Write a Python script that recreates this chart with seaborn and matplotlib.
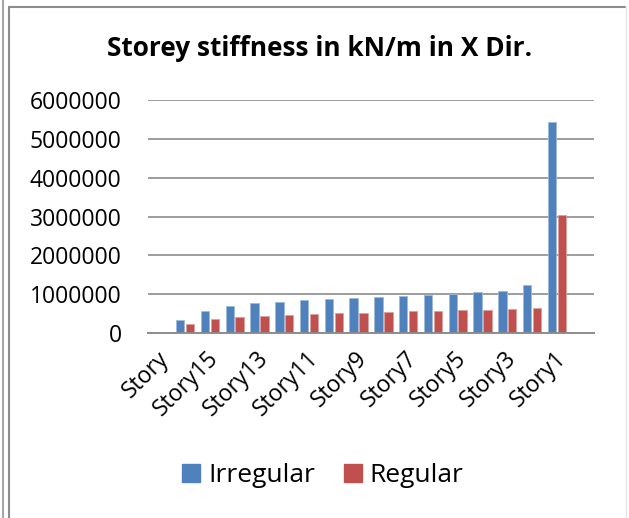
import matplotlib
matplotlib.use("Agg")
import matplotlib.pyplot as plt
from matplotlib.lines import Line2D
from matplotlib.patches import Patch
from matplotlib.transforms import ScaledTranslation
import matplotlib.colors as mcolors
import numpy as np
import pandas as pd
import seaborn as sns

# ---- data ----
categories = ["Story", "Story16", "Story15", "Story14", "Story13", "Story12", "Story11",
              "Story10", "Story9", "Story8", "Story7", "Story6", "Story5", "Story4",
              "Story3", "Story2", "Story1", ""]
irregular = [np.nan, 343000, 575000, 703000, 763000, 807000, 850000, 866000, 892000,
             918000, 945000, 979000, 1005000, 1048000, 1082000, 1228000, 5430000, np.nan]
regular = [np.nan, 240000, 360000, 420000, 446000, 472000, 497000, 505000, 515000,
           531000, 560000, 565000, 585000, 593000, 610000, 654000, 3050000, np.nan]
series_names = ["Irregular", "Regular"]
yticks = [0, 1000000, 2000000, 3000000, 4000000, 5000000, 6000000]
title = "Storey stiffness in kN/m in X Dir."

colors = {"Irregular": "#4F81BD", "Regular": "#C0504D"}

df = pd.DataFrame({
    "Story": categories * 2,
    "Series": [series_names[0]] * len(categories) + [series_names[1]] * len(categories),
    "Value": irregular + regular,
})

sns.set_style("white")
plt.rcParams["font.family"] = ["Open Sans", "DejaVu Sans"]
plt.rcParams["text.color"] = "black"
plt.rcParams["xtick.color"] = "black"
plt.rcParams["ytick.color"] = "black"

W, H = 629, 518
fig = plt.figure(figsize=(W / 100, H / 100), dpi=100)
ax = fig.add_axes([148 / W, 1 - 333 / H, (594 - 148) / W, (333 - 100) / H])

sns.barplot(data=df, x="Story", y="Value", hue="Series", order=categories,
            hue_order=series_names, palette=colors, width=0.8, gap=0.15,
            ax=ax, legend=False, errorbar=None, saturation=1)

for p in ax.patches:
    fc = mcolors.to_rgb(p.get_facecolor())
    light = tuple(c + (1 - c) * 0.45 for c in fc)
    p.set_edgecolor(light)
    p.set_linewidth(0.6)

ax.set_ylim(0, 6000000)
ax.set_xlim(-0.5, len(categories) - 0.5)
ax.set_yticks(yticks)
ax.set_yticklabels([str(v) for v in yticks])
ax.yaxis.grid(True, color="#8c8c8c", linewidth=1.2)
ax.set_axisbelow(True)
for s in ["left", "right", "top"]:
    ax.spines[s].set_visible(False)
ax.spines["bottom"].set_color("#8c8c8c")
ax.spines["bottom"].set_linewidth(1.4)
ax.set_xlabel("")
ax.set_ylabel("")
ax.tick_params(axis="y", length=0, pad=19, labelsize=16.5, labelcolor="black")
ax.tick_params(axis="x", length=0, pad=10, labelsize=16.5, labelcolor="black")

ticks = list(range(0, len(categories), 2))
ax.set_xticks(ticks)
ax.set_xticklabels([categories[i] for i in ticks], rotation=45, ha="right",
                   va="top", rotation_mode="anchor")
shift = ScaledTranslation(-3 / 100, 0, fig.dpi_scale_trans)
for lbl in ax.get_xticklabels():
    lbl.set_transform(lbl.get_transform() + shift)

fig.text(320 / W, 1 - 48 / H, title, ha="center", va="center",
         fontsize=18.9, fontweight="bold", color="black")

handles = [Patch(facecolor=colors[n], edgecolor=colors[n]) for n in series_names]
fig.legend(handles, series_names, loc="center", bbox_to_anchor=(323 / W, 1 - 476 / H),
           ncol=2, frameon=False, fontsize=19, handlelength=0.68, handleheight=0.68,
           handletextpad=0.3, columnspacing=1.1, borderpad=0, labelcolor="black")

# chart frame decorations
fig.add_artist(Line2D([2.5 / W, 2.5 / W], [0, 1], color="#a6a6a6", linewidth=1.5))
fig.add_artist(Line2D([9 / W, 9 / W], [0, 1 - 7 / H], color="#8c8c8c", linewidth=1.5))
fig.add_artist(Line2D([9 / W, 625 / W], [1 - 7 / H, 1 - 7 / H], color="#8c8c8c", linewidth=1.5))
fig.add_artist(Line2D([626 / W, 626 / W], [0, 1 - 7 / H], color="#e6e6e6", linewidth=1))

fig.savefig("out.png", dpi=100)
